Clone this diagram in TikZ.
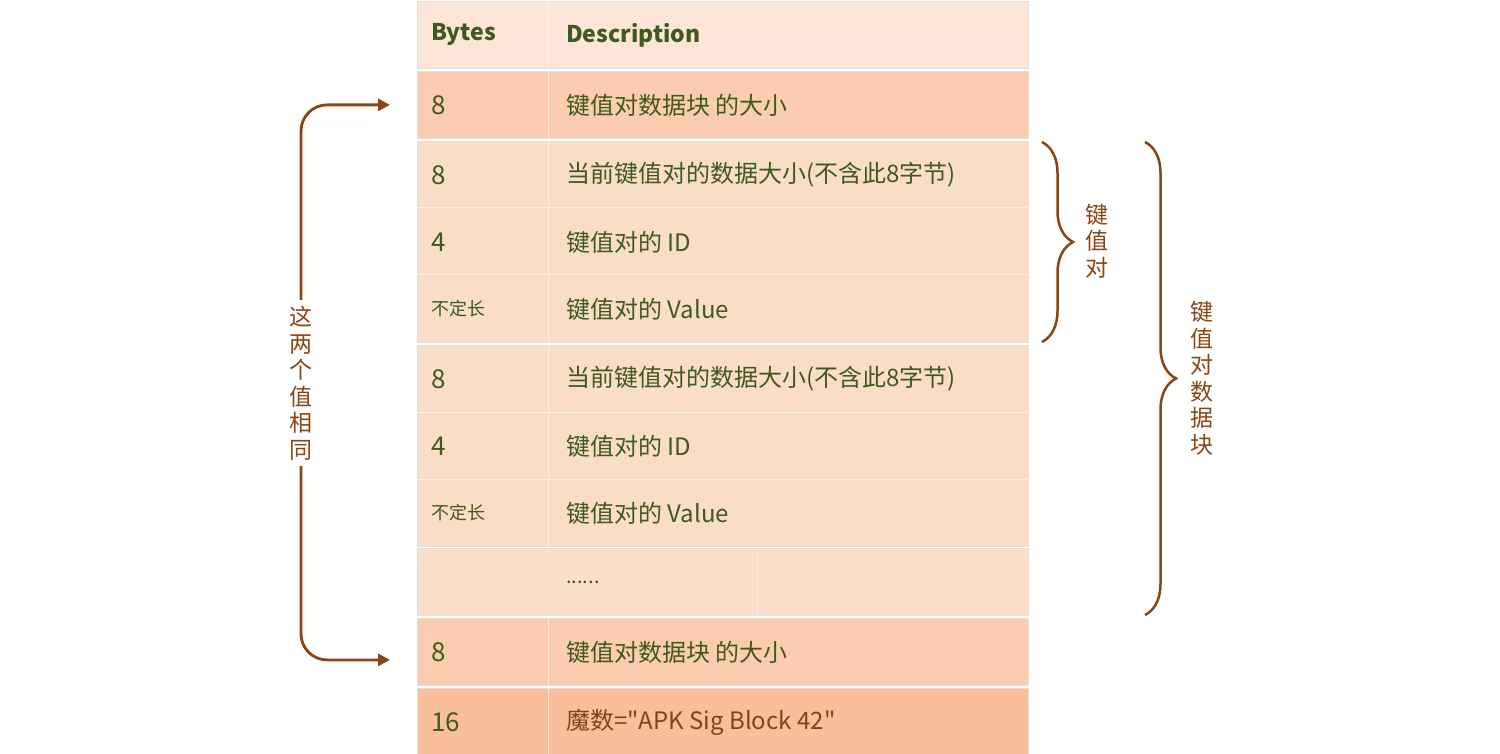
\documentclass[tikz,border=0pt]{standalone}
\usepackage{fontspec}
\setmainfont{Noto Sans CJK SC}
\usetikzlibrary{positioning,decorations.pathreplacing,arrows.meta}

\definecolor{hdrfill}{RGB}{253,230,216}
\definecolor{sizefill}{RGB}{251,204,176}
\definecolor{kvfill}{RGB}{250,221,199}
\definecolor{dotfill}{RGB}{250,223,202}
\definecolor{magicfill}{RGB}{249,191,156}
\definecolor{txtgreen}{RGB}{62,90,30}
\definecolor{txtbrown}{RGB}{122,72,22}
\definecolor{notebrown}{RGB}{139,69,19}
\definecolor{cellline}{RGB}{230,222,216}

\tikzset{
  block/.style={draw=cellline, line width=0.8pt, minimum width=611pt, anchor=north west, inner sep=0pt},
  bytes/.style={anchor=west, inner sep=0pt, text=txtgreen, font=\fontsize{26}{30}\selectfont},
  desc/.style={anchor=west, inner sep=0pt, text=txtgreen, font=\fontsize{24}{28}\selectfont},
  divider/.style={white, opacity=0.55, line width=1pt},
  note/.style={text=notebrown, align=center, inner sep=6pt, font=\fontsize{23}{26.5}\selectfont},
  link/.style={notebrown, line width=2.8pt, rounded corners=26pt, -{Triangle[length=12pt,width=12pt]}},
  curly/.style={notebrown, line width=2.5pt, decorate, decoration={brace, amplitude=31pt}},
}

\begin{document}
\begin{tikzpicture}[x=1pt, y=-1pt]
  \useasboundingbox (0,0) rectangle (1500,754);

  % table blocks
  \node[block, fill=hdrfill, minimum height=67pt] (hdr) at (417,1) {};
  \node[block, fill=sizefill, minimum height=67pt] (sz1) at (417,71) {};
  \node[block, fill=kvfill, minimum height=201pt] (kv1) at (417,141) {};
  \node[block, fill=kvfill, minimum height=201pt] (kv2) at (417,345) {};
  \node[block, fill=dotfill, minimum height=67pt] (dots) at (417,548) {};
  \node[block, fill=sizefill, minimum height=67pt] (sz2) at (417,618) {};
  \node[block, fill=magicfill, minimum height=67pt] (magic) at (417,688) {};

  % column dividers
  \foreach \blk in {hdr,sz1,kv1,kv2,sz2,magic}
    \draw[divider] ([xshift=131pt]\blk.north west) -- ([xshift=131pt]\blk.south west);
  \draw[divider, opacity=0.35] ([xshift=340pt]dots.north west) -- ([xshift=340pt]dots.south west);

  % header
  \node[bytes, font=\fontsize{23}{28}\selectfont] (hdrb) at ([xshift=14pt]hdr.west) {\textbf{Bytes}};
  \node[desc, font=\fontsize{23}{28}\selectfont] (hdrd) at ([xshift=149pt]hdr.west) {\textbf{Description}};

  % size rows
  \node[bytes] (sz1b) at ([xshift=14pt]sz1.west) {8};
  \node[desc] (sz1d) at ([xshift=149pt]sz1.west) {键值对数据块 的大小};
  \node[bytes] (sz2b) at ([xshift=14pt]sz2.west) {8};
  \node[desc] (sz2d) at ([xshift=149pt]sz2.west) {键值对数据块 的大小};

  % key-value pairs
  \foreach \g/\t in {1/141, 2/345} {
    \draw[divider] (417,{\t+67}) -- (1028,{\t+67});
    \draw[divider] (417,{\t+134}) -- (1028,{\t+134});
    \node[bytes] (kv\g len) at (431,{\t+34}) {8};
    \node[desc] (kv\g lend) at (566,{\t+34}) {当前键值对的数据大小(不含此8字节)};
    \node[bytes] (kv\g id) at (431,{\t+101}) {4};
    \node[desc] (kv\g idd) at (566,{\t+101}) {键值对的 ID};
    \node[bytes, font=\fontsize{18}{22}\selectfont] (kv\g val) at (431,{\t+168}) {不定长};
    \node[desc] (kv\g vald) at (566,{\t+168}) {键值对的 Value};
  }

  \node[desc, font=\fontsize{20}{24}\selectfont] (dotsd) at ([xshift=149pt]dots.west) {......};

  % magic
  \node[bytes] (magicb) at ([xshift=14pt]magic.west) {16};
  \node[desc, text=txtbrown] (magicd) at ([xshift=149pt]magic.west) {魔数=\textquotedbl APK Sig Block 42\textquotedbl};

  % left note with arrows
  \node[note] (same) at (301,383) {这\\两\\个\\值\\相\\同};
  \coordinate (sz1in) at ([xshift=-27pt]sz1.west);
  \coordinate (sz2in) at ([xshift=-27pt,yshift=-8pt]sz2.west);
  \draw[link] (same.north) |- (sz1in);
  \draw[link] (same.south) |- (sz2in);

  % right braces
  \coordinate (kvtop) at (1042,142);
  \coordinate (kvbot) at (1042,342);
  \draw[curly] (kvtop) -- (kvbot);
  \node[note] (kvlbl) at (1097,241) {键\\值\\对};
  \coordinate (blktop) at (1145,142);
  \coordinate (blkbot) at (1145,615);
  \draw[curly] (blktop) -- (blkbot);
  \node[note] (blklbl) at (1202,378) {键\\值\\对\\数\\据\\块};
\end{tikzpicture}
\end{document}
